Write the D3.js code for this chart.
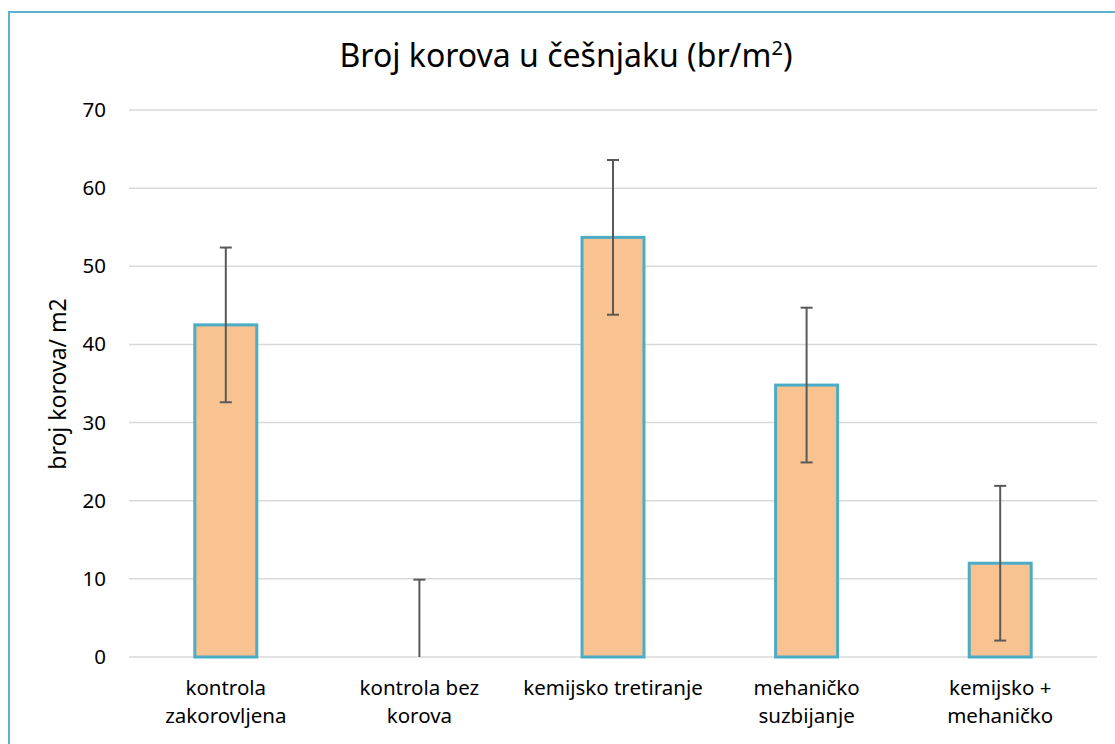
<!DOCTYPE html>
<html>
<head>
<meta charset="utf-8">
<script src="https://cdn.jsdelivr.net/npm/d3@7"></script>
<style>
body { margin: 0; background: #fff; }
svg { display: block; }
</style>
</head>
<body>
<svg id="mySVG" width="1115" height="744"></svg>
<script>
var categories = [
  ["kontrola", "zakorovljena"],
  ["kontrola bez", "korova"],
  ["kemijsko tretiranje"],
  ["mehaničko", "suzbijanje"],
  ["kemijsko +", "mehaničko"]
]
var values = [42.5, 0, 53.7, 34.8, 12.0]
var errors = [9.9, 9.9, 9.9, 9.9, 9.9]
var yTicks = [0, 10, 20, 30, 40, 50, 60, 70]

var FONT = "'Noto Sans', 'Open Sans', sans-serif"
var MySVG = d3.select("#mySVG")

//---outer frame (runs off right and bottom)---
MySVG.append("rect")
  .attr("x", 9).attr("y", 12)
  .attr("width", 1140).attr("height", 760)
  .attr("fill", "white")
  .attr("stroke", "#5ab2cc")
  .attr("stroke-width", 2)

var plotL = 129, plotR = 1097, plotT = 110, plotB = 657

var x = d3.scaleBand()
  .domain(d3.range(categories.length))
  .range([plotL, plotR])
  .paddingInner(0.68).paddingOuter(0.34)

var y = d3.scaleLinear().domain([0, 70]).range([plotB, plotT])

//---grid---
var gridG = MySVG.append("g")
gridG.selectAll("line").data(yTicks).enter().append("line")
  .attr("x1", plotL).attr("x2", plotR)
  .attr("y1", d => y(d)).attr("y2", d => y(d))
  .attr("stroke", "#d9d9d9").attr("stroke-width", 1.5)

//---y axis labels---
var yAxis = d3.axisLeft(y).tickValues(yTicks).tickSize(0).tickPadding(0)
var yG = MySVG.append("g").attr("transform", "translate(106,0)").call(yAxis)
yG.select(".domain").remove()
yG.selectAll("text")
  .attr("font-family", FONT).attr("font-size", 20.5).attr("fill", "#000")

//---bars---
MySVG.append("g").selectAll("rect").data(values).enter().append("rect")
  .attr("x", (d, i) => x(i))
  .attr("y", d => y(d))
  .attr("width", x.bandwidth())
  .attr("height", d => plotB - y(d))
  .attr("fill", "#f9c291")
  .attr("stroke", d => d > 0 ? "#4bacc6" : "none")
  .attr("stroke-width", 3)

//---error bars---
var errG = MySVG.append("g").attr("stroke", "#595959").attr("stroke-width", 2)
values.forEach(function (v, i) {
  var cx = x(i) + x.bandwidth() / 2
  var lo = Math.max(0, v - errors[i]), hi = v + errors[i]
  errG.append("line").attr("x1", cx).attr("x2", cx).attr("y1", y(lo)).attr("y2", y(hi))
  errG.append("line").attr("x1", cx - 6).attr("x2", cx + 6).attr("y1", y(hi)).attr("y2", y(hi))
  if (v - errors[i] > 0)
    errG.append("line").attr("x1", cx - 6).attr("x2", cx + 6).attr("y1", y(lo)).attr("y2", y(lo))
})

//---x labels---
var xl = MySVG.append("g").selectAll("text").data(categories).enter().append("text")
  .attr("x", (d, i) => x(i) + x.bandwidth() / 2)
  .attr("y", 695)
  .attr("text-anchor", "middle")
  .attr("font-family", FONT).attr("font-size", 20.5).attr("fill", "#000")
xl.selectAll("tspan").data(d => d).enter().append("tspan")
  .attr("x", function () { return d3.select(this.parentNode).attr("x") })
  .attr("dy", (d, j) => j === 0 ? 0 : 28)
  .text(d => d)

//---y title---
MySVG.append("text")
  .attr("transform", "translate(66,384) rotate(-90)")
  .attr("text-anchor", "middle")
  .attr("font-family", FONT).attr("font-size", 23).attr("fill", "#000")
  .text("broj korova/ m2")

//---title---
var t = MySVG.append("text")
  .attr("x", 566).attr("y", 67)
  .attr("text-anchor", "middle")
  .attr("font-family", FONT).attr("font-size", 32).attr("fill", "#000")
t.append("tspan").text("Broj korova u češnjaku (br/m")
t.append("tspan").attr("font-size", 20).attr("dy", -12).text("2")
t.append("tspan").attr("dy", 12).text(")")
</script>
</body>
</html>
